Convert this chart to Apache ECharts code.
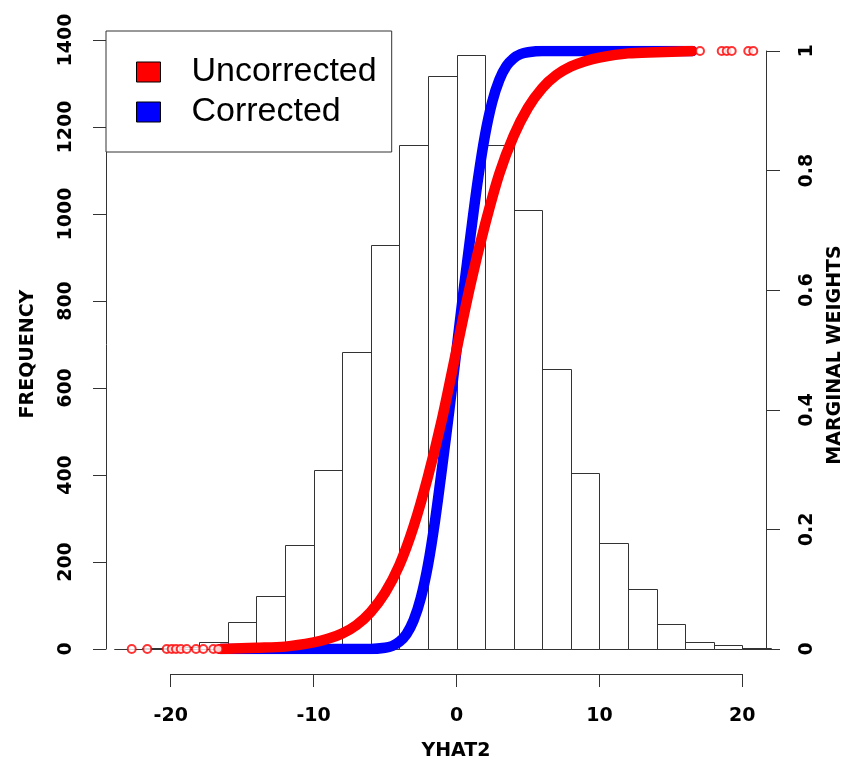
<html>
  <head>
    <meta charset="utf-8">
    <script src="https://cdn.jsdelivr.net/npm/echarts@6/dist/echarts.min.js"></script>
    <style>
      body { margin: 0; background-color: #fff; }
      #chart { width: 861px; height: 768px; }
    </style>
  </head>
  <body>
    <div id="chart"></div>
  </body>
  <script>
    // histogram of YHAT2: left edge of each bin (bins are 2 wide) and counts
    var binStarts = [-24, -22, -20, -18, -16, -14, -12, -10, -8, -6, -4, -2,
                     0, 2, 4, 6, 8, 10, 12, 14, 16, 18, 20];
    var binWidth = 2;
    var counts = [1, 2, 5, 15, 61, 122, 239, 411, 683, 929, 1159, 1318,
                  1366, 1159, 1009, 644, 405, 244, 137, 58, 16, 10, 2];

    // marginal weights
    var redX = [-16.5, -14, -12, -10, -9, -8, -7, -6, -5, -4, -3, -2, -1, 0,
                1, 2, 3, 4, 5, 6, 7, 8, 9, 10, 12, 14, 16.5];
    var redY = [0, 0.002, 0.004, 0.011, 0.017, 0.026, 0.04, 0.062, 0.094, 0.14, 0.205, 0.288, 0.386, 0.5,
                0.612, 0.71, 0.795, 0.858, 0.905, 0.938, 0.96, 0.974, 0.983, 0.989, 0.996, 0.998, 1];
    var blueX = [-16.5, -6, -5, -4.5, -4, -3.5, -3, -2.5, -2, -1.5, -1, -0.5, 0,
                 0.5, 1, 1.5, 2, 2.5, 3, 3.5, 4, 4.5, 5, 6, 16.5];
    var blueY = [0, 0, 0.002, 0.005, 0.012, 0.025, 0.048, 0.085, 0.14, 0.215, 0.305, 0.4, 0.5,
                 0.6, 0.695, 0.785, 0.86, 0.915, 0.952, 0.975, 0.988, 0.995, 0.998, 1, 1];
    // the sparse uncorrected points out in the tails
    var tailLowX = [-22.73, -21.64, -20.28, -19.93, -19.63, -19.3, -18.88, -18.23, -17.72, -17.02, -16.67];
    var tailHighX = [17.04, 18.56, 18.91, 19.26, 20.42, 20.77];

    var freqTicks = { min: 0, max: 1400, step: 200 };
    var weightTicks = { min: 0, max: 1, step: 0.2 };
    var xTicks = { min: -20, max: 20, step: 10 };
    var xRange = [-24.53, 21.66];

    var font = '"Liberation Sans", Arial, sans-serif';
    var boldFont = '"DejaVu Sans", sans-serif';
    var axisCol = '#333';

    function pairs(xs, ys) {
        var out = [];
        for (let i in xs) {
            out.push([xs[i], ys[i]]);
        }
        return out;
    }

    var histData = [];
    for (let i in binStarts) {
        histData.push([binStarts[i], binStarts[i] + binWidth, counts[i]]);
    }
    var tailData = [];
    for (let i in tailLowX) { tailData.push([tailLowX[i], 0]); }
    for (let i in tailHighX) { tailData.push([tailHighX[i], 1]); }

    function drawBin(params, api) {
        var p0 = api.coord([api.value(0), api.value(2)]);
        var p1 = api.coord([api.value(1), 0]);
        var x0 = Math.round(p0[0]) + 0.5, x1 = Math.round(p1[0]) + 0.5;
        var y0 = Math.round(p0[1]) + 0.5, y1 = Math.round(p1[1]) + 0.5;
        return {
            type: 'rect',
            shape: { x: x0, y: y0, width: x1 - x0, height: y1 - y0 },
            style: { fill: 'none', stroke: axisCol, lineWidth: 1 }
        };
    }

    // R prints plain numbers, no thousands separator
    var labelStyle = { color: '#000', fontSize: 19, fontWeight: 'bold', fontFamily: boldFont,
                       formatter: function (v) { return String(v); } };

    var chart = echarts.init(document.getElementById('chart'));
    var option = {
        animation: false,
        backgroundColor: '#fff',
        grid: [
            { left: 106, right: 95, top: 40, bottom: 119 },
            { left: 106, right: 95, top: 51, bottom: 119 },
            { left: 170.7, right: 118.7, top: 600, bottom: 94 }
        ],
        xAxis: [
            { gridIndex: 0, type: 'value', min: xRange[0], max: xRange[1], show: false },
            { gridIndex: 1, type: 'value', min: xRange[0], max: xRange[1], show: false },
            { gridIndex: 2, type: 'value', min: xTicks.min, max: xTicks.max, interval: xTicks.step,
              axisLine: { show: true, onZero: false, lineStyle: { color: axisCol, width: 1 } },
              axisTick: { show: true, length: 13, lineStyle: { color: axisCol } },
              axisLabel: Object.assign({ margin: 33 }, labelStyle),
              splitLine: { show: false } }
        ],
        yAxis: [
            { gridIndex: 0, type: 'value', position: 'left', min: freqTicks.min, max: freqTicks.max, interval: freqTicks.step,
              axisLine: { show: true, onZero: false, lineStyle: { color: axisCol, width: 1 } },
              axisTick: { show: true, length: 13, lineStyle: { color: axisCol } },
              axisLabel: Object.assign({ margin: 30, rotate: 90 }, labelStyle),
              splitLine: { show: false } },
            { gridIndex: 1, type: 'value', position: 'right', min: weightTicks.min, max: weightTicks.max, interval: weightTicks.step,
              axisLine: { show: true, onZero: false, lineStyle: { color: axisCol, width: 1 } },
              axisTick: { show: true, length: 14, lineStyle: { color: axisCol } },
              axisLabel: Object.assign({ margin: 32, rotate: 90 }, labelStyle),
              splitLine: { show: false } },
            { gridIndex: 2, type: 'value', show: false }
        ],
        legend: {
            left: 106, top: 31, orient: 'vertical',
            padding: [21, 15, 20, 30], itemGap: 0,
            itemWidth: 24, itemHeight: 20, icon: 'rect',
            borderColor: axisCol, borderWidth: 1, backgroundColor: '#fff',
            itemStyle: { borderColor: '#000', borderWidth: 1 },
            textStyle: { color: '#000', fontSize: 34, fontFamily: font, lineHeight: 40, padding: [0, 0, 0, 26] },
            data: ['Uncorrected', 'Corrected']
        },
        graphic: [
            { type: 'text', x: 456, y: 751, style: { text: 'YHAT2', font: 'bold 19px ' + boldFont, fill: '#000', align: 'center', verticalAlign: 'middle' } },
            { type: 'text', x: 28, y: 354, rotation: Math.PI / 2, style: { text: 'FREQUENCY', font: 'bold 19px ' + boldFont, fill: '#000', align: 'center', verticalAlign: 'middle' } },
            { type: 'text', x: 835, y: 355, rotation: Math.PI / 2, style: { text: 'MARGINAL WEIGHTS', font: 'bold 19px ' + boldFont, fill: '#000', align: 'center', verticalAlign: 'middle' } }
        ],
        series: [
            { type: 'custom', xAxisIndex: 0, yAxisIndex: 0, renderItem: drawBin, data: histData,
              encode: { x: [0, 1], y: 2 }, clip: false, z: 1, silent: true },
            { name: 'Corrected', type: 'line', xAxisIndex: 1, yAxisIndex: 1, data: pairs(blueX, blueY),
              showSymbol: false, smooth: 0.3, z: 2,
              itemStyle: { color: '#0000ff' },
              lineStyle: { color: '#0000ff', width: 10.5, cap: 'round', join: 'round' } },
            { name: 'Uncorrected', type: 'line', xAxisIndex: 1, yAxisIndex: 1, data: pairs(redX, redY),
              showSymbol: false, smooth: 0.3, z: 3,
              itemStyle: { color: '#ff0000' },
              lineStyle: { color: '#ff0000', width: 10.5, cap: 'round', join: 'round' } },
            { name: 'tails', type: 'scatter', xAxisIndex: 1, yAxisIndex: 1, data: tailData,
              symbol: 'emptyCircle', symbolSize: 8, z: 3, clip: false,
              itemStyle: { color: '#ff0000', borderColor: '#ff0000', borderWidth: 1 } }
        ]
    };
    chart.setOption(option);
  </script>
</html>
